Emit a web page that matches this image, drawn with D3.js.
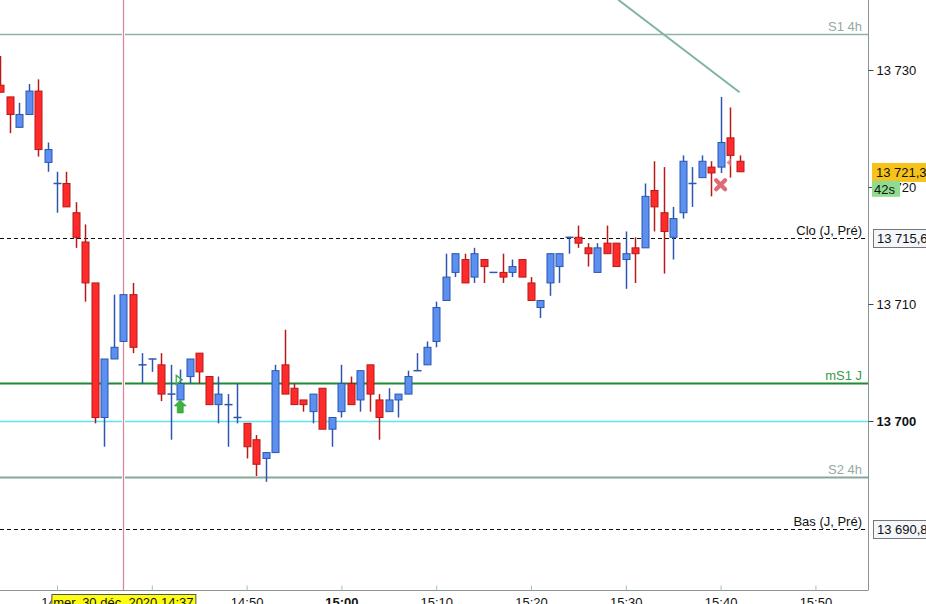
<!DOCTYPE html>
<html>
<head>
<meta charset="utf-8">
<script src="https://cdn.jsdelivr.net/npm/d3@7"></script>
<style>
  body { margin: 0; background: #fff; }
  svg { display: block; font-family: "Liberation Sans", Arial, sans-serif; }
</style>
</head>
<body>
<svg id="chart" width="926" height="604"></svg>
<script>
// one candle per minute, first one at 14:24
const firstCandle = new Date(2020, 11, 30, 14, 24);
const opens = [13728.7, 13727.7, 13725.1, 13726.2, 13728.2, 13722.1, 13720.3, 13720.3, 13717.8, 13715.3,
  13711.8, 13700.3, 13705.3, 13706.8, 13710.8, 13704.8, 13705.3, 13704.8, 13702.3, 13701.8,
  13703.8, 13705.8, 13703.8, 13701.4, 13701.4, 13700.3, 13699.8, 13698.4, 13696.8, 13697.3,
  13704.8, 13702.8, 13701.8, 13700.8, 13702.8, 13699.3, 13700.8, 13703.2, 13701.8, 13704.8,
  13701.8, 13700.8, 13701.8, 13702.3, 13704.3, 13704.8, 13706.8, 13710.3, 13712.7, 13713.8,
  13712.3, 13713.8, 13712.7, 13712.7, 13712.7, 13713.8, 13711.8, 13709.7, 13711.8, 13713.2,
  13715.7, 13715.7, 13714.8, 13712.7, 13715.2, 13715.2, 13713.8, 13714.8, 13714.8, 13719.7,
  13717.8, 13715.7, 13717.8, 13720.3, 13720.8, 13721.7, 13721.7, 13724.2, 13722.2];
const highs = [13731.2, 13727.7, 13727.2, 13728.8, 13729.2, 13723.8, 13721.3, 13721.3, 13718.7, 13716.8,
  13711.8, 13705.3, 13710.8, 13710.8, 13711.8, 13705.8, 13705.3, 13705.8, 13704.8, 13704.4,
  13705.3, 13705.8, 13703.8, 13703.8, 13702.3, 13703.2, 13699.8, 13698.8, 13697.3, 13704.8,
  13707.8, 13703.2, 13701.8, 13702.3, 13702.8, 13700.3, 13704.8, 13703.8, 13704.3, 13704.8,
  13702.3, 13702.8, 13702.3, 13704.3, 13705.8, 13706.8, 13710.2, 13714.3, 13714.3, 13714.3,
  13714.8, 13713.8, 13712.7, 13714.3, 13713.8, 13713.8, 13712.3, 13710.3, 13714.3, 13714.3,
  13715.7, 13716.7, 13715.2, 13715.2, 13716.7, 13715.2, 13716.2, 13715.7, 13720.3, 13722.2,
  13721.7, 13718.3, 13722.7, 13721.7, 13722.7, 13722.2, 13727.7, 13726.8, 13722.7];
const lows = [13728.1, 13724.6, 13725.1, 13726.2, 13722.6, 13721.3, 13717.8, 13718.3, 13714.8, 13710.2,
  13699.8, 13697.8, 13705.3, 13706.8, 13705.8, 13703.2, 13704.2, 13701.7, 13698.4, 13701.8,
  13703.2, 13703.2, 13701.4, 13699.8, 13697.8, 13699.8, 13696.8, 13695.3, 13694.8, 13697.3,
  13702.3, 13701.4, 13700.8, 13699.8, 13699.3, 13697.8, 13700.3, 13701.4, 13700.8, 13700.8,
  13698.4, 13700.8, 13700.3, 13702.3, 13704.3, 13704.8, 13706.3, 13710.3, 13712.3, 13711.8,
  13711.8, 13711.8, 13712.7, 13711.8, 13712.3, 13712.3, 13710.3, 13708.8, 13710.7, 13711.8,
  13714.3, 13714.8, 13713.2, 13712.7, 13714.3, 13713.2, 13711.3, 13711.8, 13714.8, 13716.2,
  13712.6, 13713.8, 13717.3, 13718.3, 13720.8, 13719.2, 13721.2, 13720.8, 13721.3];
const closes = [13728.1, 13726.2, 13726.2, 13728.2, 13723.2, 13723.2, 13720.3, 13718.3, 13715.7, 13711.8,
  13700.3, 13705.3, 13706.3, 13710.8, 13706.3, 13704.8, 13705.3, 13702.3, 13702.3, 13703.2,
  13705.3, 13704.2, 13701.4, 13702.3, 13701.4, 13700.3, 13697.8, 13696.3, 13697.3, 13704.3,
  13702.3, 13701.4, 13701.4, 13702.3, 13699.3, 13700.3, 13703.2, 13701.4, 13704.3, 13702.3,
  13700.3, 13701.8, 13702.3, 13703.8, 13704.3, 13706.3, 13709.7, 13712.3, 13714.3, 13711.8,
  13714.3, 13713.2, 13712.7, 13712.3, 13713.2, 13712.3, 13710.3, 13710.3, 13714.3, 13714.3,
  13715.7, 13715.2, 13714.3, 13714.8, 13714.3, 13713.2, 13714.3, 13714.3, 13719.2, 13718.3,
  13716.2, 13717.3, 13722.2, 13720.3, 13722.2, 13721.2, 13723.8, 13722.7, 13721.3];

// horizontal levels drawn across the chart
const levelNames = ["S1 4h", "Clo (J, Pré)", "mS1 J", "", "S2 4h", "Bas (J, Pré)"];
const levelValues = [13733.1, 13715.6, 13703.25, 13700, 13695.2, 13690.8];

const yTicks = [13700, 13710, 13720, 13730];
const lastPrice = 13721.3;
const countdown = "42s";
const crosshairTime = new Date(2020, 11, 30, 14, 37);
const trendTimes = [new Date(2020, 11, 30, 15, 29, 12), new Date(2020, 11, 30, 15, 42)];
const trendValues = [13736.0, 13728.1];

const plotRight = 868, plotBottom = 590;
const svg = d3.select("#chart");

const fr = d3.formatLocale({ decimal: ",", thousands: "\u00a0", grouping: [3], currency: ["", "€"] });
const fmt0 = fr.format(",.0f"), fmt1 = fr.format(",.1f");

const x = d3.scaleTime()
  .domain([new Date(2020, 11, 30, 14, 30), new Date(2020, 11, 30, 15, 50)])
  .range([57, 815.4]);
const y = d3.scaleLinear().domain([13700, 13730]).range([421, 70]);

const candles = opens.map((o, i) => ({
  t: d3.timeMinute.offset(firstCandle, i), o, h: highs[i], l: lows[i], c: closes[i]
}));

svg.append("defs").append("clipPath").attr("id", "plot")
  .append("rect").attr("x", 0).attr("y", 0).attr("width", plotRight).attr("height", plotBottom);

const plot = svg.append("g").attr("clip-path", "url(#plot)");

// levels
const levelStyle = {
  "S1 4h": { stroke: "#8fb5a6", w: 1.3, dash: null, text: "#93aba0" },
  "Clo (J, Pré)": { stroke: "#111", w: 1, dash: "4,3", text: "#111" },
  "mS1 J": { stroke: "#1f8a35", w: 2.2, dash: null, text: "#3c9a48" },
  "": { stroke: "#62e3ea", w: 1.3, dash: null, text: "none" },
  "S2 4h": { stroke: "#86a89c", w: 2, dash: null, text: "#93aba0" },
  "Bas (J, Pré)": { stroke: "#111", w: 1, dash: "4,3", text: "#111" }
};
levelValues.forEach((v, i) => {
  const st = levelStyle[levelNames[i]];
  plot.append("line")
    .attr("x1", 0).attr("x2", plotRight)
    .attr("y1", Math.round(y(v)) + 0.5).attr("y2", Math.round(y(v)) + 0.5)
    .attr("stroke", st.stroke).attr("stroke-width", st.w)
    .attr("stroke-dasharray", st.dash);
  if (levelNames[i]) {
    plot.append("text")
      .attr("x", 862).attr("y", y(v) - 3)
      .attr("text-anchor", "end")
      .attr("font-size", 13)
      .attr("fill", st.text)
      .text(levelNames[i]);
  }
});

// crosshair
const chx = Math.round(x(crosshairTime));
plot.append("rect").attr("x", chx - 1).attr("y", 0).attr("width", 3).attr("height", plotBottom)
  .attr("fill", "#fdeef2");
plot.append("line")
  .attr("x1", chx + 0.5).attr("x2", chx + 0.5)
  .attr("y1", 0).attr("y2", plotBottom)
  .attr("stroke", "#d48a98").attr("stroke-width", 1);

// trend line
plot.append("line")
  .attr("x1", x(trendTimes[0])).attr("y1", y(trendValues[0]))
  .attr("x2", x(trendTimes[1])).attr("y2", y(trendValues[1]))
  .attr("stroke", "#7fb3a2").attr("stroke-width", 2);

// candles
const bodyW = 7;
const up = d => d.c >= d.o;
const cg = plot.selectAll("g.candle").data(candles).join("g").attr("class", "candle");
cg.append("line")
  .attr("x1", d => Math.round(x(d.t)) + 0.5).attr("x2", d => Math.round(x(d.t)) + 0.5)
  .attr("y1", d => y(d.h)).attr("y2", d => y(d.l))
  .attr("stroke", d => up(d) ? "#2c56b0" : "#b81818")
  .attr("stroke-width", 1.5);
cg.filter(d => Math.abs(y(d.o) - y(d.c)) >= 1.5).append("rect")
  .attr("x", d => Math.round(x(d.t)) - bodyW / 2 + 0.5)
  .attr("y", d => y(Math.max(d.o, d.c)))
  .attr("width", bodyW)
  .attr("height", d => Math.abs(y(d.o) - y(d.c)))
  .attr("fill", d => up(d) ? "#5b8ff0" : "#ff2b2b")
  .attr("stroke", d => up(d) ? "#2c56b0" : "#b81818")
  .attr("stroke-width", 1);
cg.filter(d => Math.abs(y(d.o) - y(d.c)) < 1.5).append("line")
  .attr("x1", d => Math.round(x(d.t)) - bodyW / 2).attr("x2", d => Math.round(x(d.t)) + bodyW / 2 + 1)
  .attr("y1", d => y(d.c)).attr("y2", d => y(d.c))
  .attr("stroke", d => up(d) ? "#2c56b0" : "#b81818")
  .attr("stroke-width", 1.5);

// signal markers
const at = (h, m) => new Date(2020, 11, 30, h, m);
const gx = x(at(14, 43)), ax = x(at(14, 43));
plot.append("path")
  .attr("d", `M${gx - 4},${y(13703.9)} l6,4.5 l-6,4.5 z`)
  .attr("fill", "none").attr("stroke", "#3cb043").attr("stroke-width", 1.3);
plot.append("path")
  .attr("d", `M${ax},${y(13701.8)} l6,6 h-3 v7 h-6 v-7 h-3 z`)
  .attr("fill", "#3cb440").attr("stroke", "#2a9a30").attr("stroke-width", 0.6);
const rx = x(at(15, 40)), ry = y(13720.2);
plot.append("path")
  .attr("d", `M${rx - 4.5},${ry - 4.5} L${rx + 4.5},${ry + 4.5} M${rx + 4.5},${ry - 4.5} L${rx - 4.5},${ry + 4.5}`)
  .attr("stroke", "#e06a74").attr("stroke-width", 4.2).attr("stroke-linecap", "round");
const px = x(at(15, 40)) + 6, py = y(13722.1);
plot.append("path")
  .attr("d", `M${px},${py} l4,-4 v8 z`)
  .attr("fill", "#e08a90");

// axes frame
svg.append("line").attr("x1", plotRight + 0.5).attr("x2", plotRight + 0.5)
  .attr("y1", 0).attr("y2", plotBottom).attr("stroke", "#8a9696");
svg.append("line").attr("x1", 0).attr("x2", plotRight + 0.5)
  .attr("y1", plotBottom + 0.5).attr("y2", plotBottom + 0.5).attr("stroke", "#8a9696");

// right axis
const yAxis = svg.append("g").attr("transform", `translate(${plotRight + 0.5},0)`)
  .call(d3.axisRight(y).tickValues(yTicks).tickFormat(fmt0).tickSize(5).tickPadding(3));
yAxis.select(".domain").remove();
yAxis.selectAll(".tick line").attr("stroke", "#444");
yAxis.selectAll(".tick text")
  .attr("font-size", 13).attr("fill", "#111")
  .attr("font-family", "Liberation Sans, Arial, sans-serif")
  .attr("font-weight", d => d === 13700 ? "bold" : null);

// bottom axis
const xAxis = svg.append("g").attr("transform", `translate(0,${plotBottom + 0.5})`)
  .call(d3.axisBottom(x).ticks(d3.timeMinute.every(10)).tickFormat(d3.timeFormat("%H:%M"))
    .tickSizeInner(-5).tickSizeOuter(0).tickPadding(7));
xAxis.select(".domain").remove();
xAxis.selectAll(".tick line").attr("stroke", "#b0b8b8");
xAxis.selectAll(".tick text")
  .attr("font-size", 13).attr("fill", "#111")
  .attr("font-family", "Liberation Sans, Arial, sans-serif")
  .attr("font-weight", d => d.getHours() === 15 && d.getMinutes() === 0 ? "bold" : null);

// price tags on the right axis
function tag(v, txt, fill, stroke, x0, w, h) {
  const g = svg.append("g");
  g.append("rect").attr("x", x0 + 0.5).attr("y", Math.round(y(v) - h / 2) + 0.5)
    .attr("width", w).attr("height", h)
    .attr("fill", fill).attr("stroke", stroke);
  g.append("text").attr("x", x0 + 4).attr("y", y(v) + 5)
    .attr("font-size", 13).attr("fill", "#111").text(txt);
}
tag(levelValues[1], fmt1(levelValues[1]), "#f3f6fa", "#777", 873, 56, 18);
tag(levelValues[5], fmt1(levelValues[5]), "#f3f6fa", "#777", 873, 56, 18);
tag(lastPrice, fmt1(lastPrice), "#f7c31a", "#f7c31a", 872, 56, 18);
const cdY = y(lastPrice) + 17;
svg.append("rect").attr("x", 872).attr("y", cdY - 8).attr("width", 28).attr("height", 16).attr("fill", "#8fdc8f");
svg.append("text").attr("x", 874).attr("y", cdY + 5).attr("font-size", 13).attr("fill", "#111").text(countdown);

// crosshair date tag
const dt = svg.append("g");
const cx = x(crosshairTime);
dt.append("rect").attr("x", cx - 71.5).attr("y", 594.5).attr("width", 144).attr("height", 14)
  .attr("fill", "#fdfd14").attr("stroke", "#555");
dt.append("text").attr("x", cx).attr("y", 606.5).attr("text-anchor", "middle")
  .attr("font-size", 13).attr("fill", "#111")
  .text("mer. 30 déc. 2020 " + d3.timeFormat("%H:%M")(crosshairTime));
</script>
</body>
</html>
